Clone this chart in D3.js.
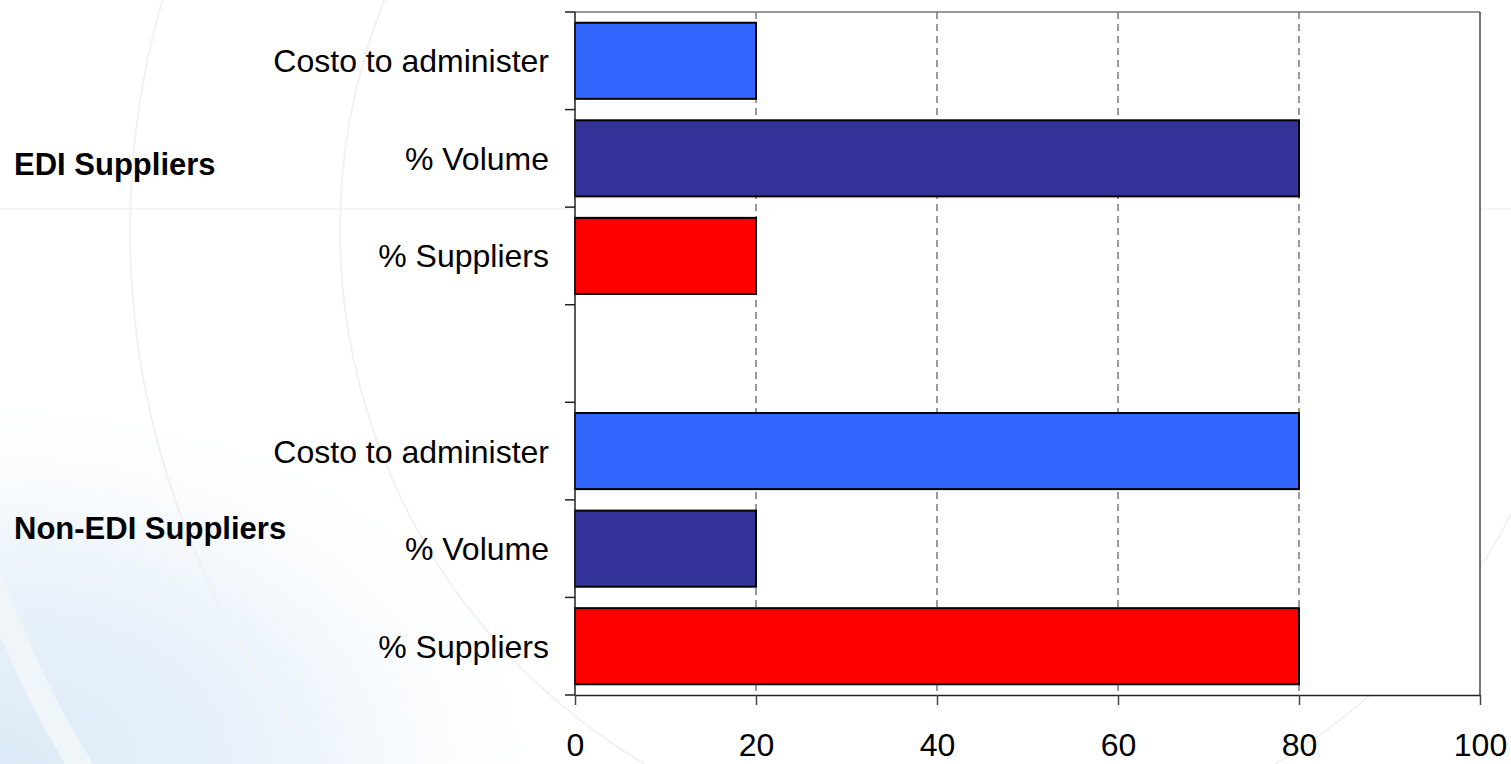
<!DOCTYPE html>
<html>
<head>
<meta charset="utf-8">
<script src="https://cdn.jsdelivr.net/npm/d3@7"></script>
<style>
  html, body { margin: 0; padding: 0; background: #ffffff; }
  svg { display: block; }
  text { font-family: "Liberation Sans", Arial, sans-serif; }
</style>
</head>
<body>
<svg id="chart" width="1511" height="764"></svg>
<script>
// ---- data ----
const slotIds    = ["edi-cost", "edi-vol", "edi-sup", "gap", "non-cost", "non-vol", "non-sup"];
const categories = ["Costo to administer", "% Volume", "% Suppliers", "", "Costo to administer", "% Volume", "% Suppliers"];
const seriesOf   = ["cost", "vol", "sup", null, "cost", "vol", "sup"];
const values     = [20, 80, 20, null, 80, 20, 80];
const groupLabels = ["EDI Suppliers", "Non-EDI Suppliers"];
const seriesKeys  = ["cost", "vol", "sup"];
const seriesColors = ["#3366FF", "#333399", "#FF0000"];
const xTicks = [0, 20, 40, 60, 80, 100];

// ---- layout ----
const W = 1511, H = 764;
const m = { left: 575, top: 12, right: 31, bottom: 69 };
const svg = d3.select("#chart");

// background decoration (template swirl)
const defs = svg.append("defs");
const rg = defs.append("radialGradient").attr("id", "bgBlue")
  .attr("cx", 0.0).attr("cy", 1.0).attr("r", 0.75);
rg.append("stop").attr("offset", "0%").attr("stop-color", "#dceaf7");
rg.append("stop").attr("offset", "55%").attr("stop-color", "#edf4fb");
rg.append("stop").attr("offset", "100%").attr("stop-color", "#ffffff").attr("stop-opacity", 0);
svg.append("rect").attr("width", W).attr("height", H).attr("fill", "#ffffff");
svg.append("rect").attr("x", 0).attr("y", 250).attr("width", 760).attr("height", 514).attr("fill", "url(#bgBlue)");
const deco = svg.append("g").attr("fill", "none").attr("stroke", "#f1f1f1").attr("stroke-width", 2);
deco.append("circle").attr("cx", 960).attr("cy", 230).attr("r", 830);
deco.append("circle").attr("cx", 960).attr("cy", 230).attr("r", 620);
deco.append("circle").attr("cx", 960).attr("cy", 230).attr("r", 1030).attr("stroke", "#f0f5fa").attr("stroke-width", 24);
svg.append("line").attr("x1", 0).attr("x2", W).attr("y1", 209).attr("y2", 209)
  .attr("stroke", "#f2f2f2").attr("stroke-width", 1.5);

const x = d3.scaleLinear().domain([0, 100]).range([m.left, W - m.right]);
const y = d3.scaleBand().domain(slotIds).range([m.top, H - m.bottom])
  .paddingInner(0.22).paddingOuter(0.11);
const step = y.step();
const color = d3.scaleOrdinal().domain(seriesKeys).range(seriesColors);

// plot area
svg.append("rect")
  .attr("x", x(0)).attr("y", m.top)
  .attr("width", x(100) - x(0)).attr("height", H - m.bottom - m.top)
  .attr("fill", "#ffffff");

// gridlines
svg.append("g").selectAll("line").data(xTicks.filter(d => d > 0 && d < 100)).join("line")
  .attr("x1", d => x(d)).attr("x2", d => x(d))
  .attr("y1", m.top).attr("y2", H - m.bottom)
  .attr("stroke", "#666").attr("stroke-width", 1.3).attr("stroke-dasharray", "7,5");

// top & right border
svg.append("line").attr("x1", x(0)).attr("x2", x(100)).attr("y1", m.top).attr("y2", m.top)
  .attr("stroke", "#777").attr("stroke-width", 1.5);
svg.append("line").attr("x1", x(100)).attr("x2", x(100)).attr("y1", m.top).attr("y2", H - m.bottom)
  .attr("stroke", "#444").attr("stroke-width", 1.5);

// bars
const rows = slotIds.map((id, i) => ({ id, v: values[i], s: seriesOf[i] })).filter(d => d.v != null);
svg.append("g").selectAll("rect").data(rows).join("rect")
  .attr("x", x(0))
  .attr("y", d => y(d.id))
  .attr("width", d => x(d.v) - x(0))
  .attr("height", y.bandwidth())
  .attr("fill", d => color(d.s))
  .attr("stroke", "#000").attr("stroke-width", 2);

// x axis
const xAxis = svg.append("g").attr("transform", `translate(0,${H - m.bottom})`)
  .call(d3.axisBottom(x).tickValues(xTicks).tickSize(10).tickSizeOuter(0).tickFormat(d3.format("d")));
xAxis.select(".domain").attr("stroke", "#222").attr("stroke-width", 1.5);
xAxis.selectAll(".tick line").attr("stroke", "#444").attr("stroke-width", 1.5);
xAxis.selectAll(".tick text").attr("y", 61).attr("dy", 0)
  .attr("font-size", 32).attr("fill", "#000")
  .attr("font-family", "'Liberation Sans', Arial, sans-serif");

// y axis line + boundary ticks
const yAxis = svg.append("g");
yAxis.append("line").attr("x1", x(0)).attr("x2", x(0)).attr("y1", m.top).attr("y2", H - m.bottom)
  .attr("stroke", "#222").attr("stroke-width", 1.5);
const bounds = d3.range(slotIds.length + 1).map(i => m.top + i * step);
yAxis.selectAll("line.tk").data(bounds).join("line").attr("class", "tk")
  .attr("x1", x(0) - 10).attr("x2", x(0))
  .attr("y1", d => d).attr("y2", d => d)
  .attr("stroke", "#222").attr("stroke-width", 1.5);

// category labels
svg.append("g").selectAll("text").data(slotIds.map((id, i) => ({ id, t: categories[i] })).filter(d => d.t))
  .join("text")
  .attr("x", x(0) - 26)
  .attr("y", d => y(d.id) + y.bandwidth() / 2)
  .attr("dy", "0.36em")
  .attr("text-anchor", "end")
  .attr("font-size", 32)
  .attr("fill", "#000")
  .text(d => d.t);

// group labels
const groupPos = [
  { t: groupLabels[0], yy: y("edi-vol") + y.bandwidth() / 2 + 17 },
  { t: groupLabels[1], yy: y("non-vol") + y.bandwidth() / 2 - 10 }
];
svg.append("g").selectAll("text").data(groupPos).join("text")
  .attr("x", 14).attr("y", d => d.yy)
  .attr("font-size", 31).attr("font-weight", "bold").attr("fill", "#000")
  .text(d => d.t);
</script>
</body>
</html>
